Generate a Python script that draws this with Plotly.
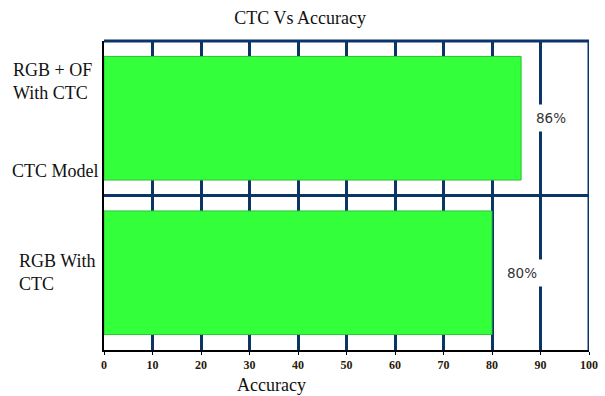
import plotly.graph_objects as go

categories = ["RGB With CTC", "RGB + OF With CTC"]
accuracy = [80, 86]
value_labels = ["80%", "86%"]
x_ticks = [0, 10, 20, 30, 40, 50, 60, 70, 80, 90, 100]

NAVY = "#0b3566"
SERIF = "Liberation Serif, Times New Roman, serif"

fig = go.Figure()
fig.add_trace(go.Bar(
    y=categories, x=accuracy, orientation="h",
    marker=dict(color="#33ff3a", line=dict(color="#2cc236", width=1)),
    width=0.8, hoverinfo="x+y",
))

# value labels with white background
for c, v, t in zip(categories, accuracy, value_labels):
    fig.add_annotation(x=v, y=c, xref="x", yref="y", text=t, showarrow=False,
                       xanchor="left", xshift=9, bgcolor="white", borderpad=5,
                       font=dict(family="DejaVu Sans, sans-serif", size=13.5, color="#333333"))

# y labels
fig.add_annotation(x=0, xref="paper", y=1.235, yref="y", text="RGB + OF<br>With CTC",
                   showarrow=False, xanchor="right", align="left", xshift=-10,
                   font=dict(family=SERIF, size=18, color="#111111"))
fig.add_annotation(x=0, xref="paper", y=0.66, yref="y", text="CTC Model",
                   showarrow=False, xanchor="right", align="left", xshift=-3,
                   font=dict(family=SERIF, size=18, color="#111111"))
fig.add_annotation(x=0, xref="paper", y=0.0, yref="y", text="RGB With<br>CTC",
                   showarrow=False, xanchor="right", align="left", xshift=-7,
                   font=dict(family=SERIF, size=18, color="#111111"))

# x axis title
fig.add_annotation(x=0.346, xref="paper", y=-(385 - 350) / 309, yref="paper",
                   yanchor="middle", text="Accuracy", showarrow=False,
                   font=dict(family=SERIF, size=18, color="#111111"))

# horizontal grid lines (top + middle) and right border
fig.add_shape(type="line", xref="x", yref="y", x0=0, x1=100, y0=0.5, y1=0.5,
              line=dict(color=NAVY, width=3), layer="below")
fig.add_shape(type="line", xref="x", yref="paper", x0=0, x1=100, y0=1, y1=1,
              line=dict(color=NAVY, width=3), layer="below")
fig.add_shape(type="line", xref="x", yref="paper", x0=100, x1=100, y0=0, y1=1,
              line=dict(color=NAVY, width=3), layer="below")

fig.update_layout(
    width=605, height=396,
    margin=dict(l=104, r=16, t=41, b=46, autoexpand=False),
    paper_bgcolor="white", plot_bgcolor="white",
    showlegend=False,
    title=dict(text="CTC Vs Accuracy", x=0.496, xanchor="center", y=1 - 18 / 396,
               yanchor="middle", yref="container",
               font=dict(family=SERIF, size=18, color="#111111")),
    xaxis=dict(range=[0, 100], tickvals=x_ticks, showgrid=True, gridcolor=NAVY,
               gridwidth=3, zeroline=False, showline=True, linecolor="black",
               linewidth=2, ticks="outside", ticklen=3, tickcolor="black",
               automargin=False,
               tickfont=dict(family=SERIF, size=12, color="#2a1a0a", weight="bold")),
    yaxis=dict(range=[-0.5, 1.5], showticklabels=False, showgrid=False,
               zeroline=False, showline=True, linecolor="black", linewidth=2,
               ticks="", automargin=False),
)

fig.write_html("out.html", config={"displayModeBar": False},
               post_script="document.body.style.margin='0';")
